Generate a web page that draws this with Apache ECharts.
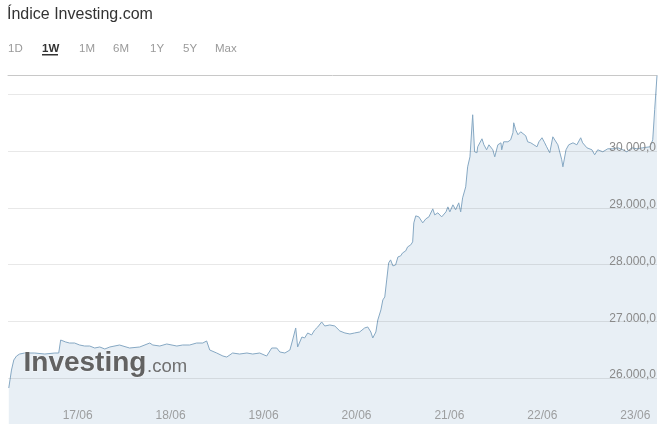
<!DOCTYPE html>
<html>
<head>
<meta charset="utf-8">
<script src="https://cdn.jsdelivr.net/npm/echarts@6/dist/echarts.min.js"></script>
<style>
  html, body { margin: 0; padding: 0; background: #fff; }
  #chart { width: 670px; height: 435px; }
</style>
</head>
<body>
<div id="chart"></div>
<script>
// Hours relative to 17/06 00:00
var hours = [
  -17.8,-17.1,-16.5,-15.8,-15.0,-13.7,-11.1,-8.5,-5.9,-4.9,
  -4.4,-3.9,-3.1,-2.1,-0.8,0.5,1.8,3.1,4.4,5.7,
  7.0,8.3,10.8,13.4,16.0,18.6,19.4,21.2,23.0,25.6,
  27.1,28.9,30.7,32.3,33.3,34.1,35.9,37.5,38.5,40.0,
  41.8,43.7,45.2,47.0,48.8,50.1,51.4,52.2,53.5,54.8,
  55.5,56.3,56.8,57.9,58.6,59.4,60.4,61.2,62.0,63.0,
  63.8,65.1,66.4,67.7,69.0,70.3,71.5,72.8,74.1,74.9,
  75.7,76.2,77.0,77.5,78.3,78.8,79.3,79.8,80.3,80.8,
  81.4,82.1,82.7,83.4,83.9,84.7,85.2,86.0,86.5,86.8,
  87.3,88.1,89.1,89.9,90.7,91.7,92.2,93.0,94.0,95.1,
  95.6,96.1,96.9,97.6,98.4,98.9,99.4,100.2,100.7,101.3,
  101.8,102.0,102.5,103.1,103.3,104.4,104.9,105.6,106.2,107.2,
  107.7,108.5,109.3,109.5,110.0,111.1,111.8,112.4,112.6,113.1,
  113.7,114.4,114.9,115.7,116.2,117.0,117.8,118.6,119.1,119.9,
  120.6,121.1,121.9,122.7,124.0,125.0,125.3,126.1,126.8,127.9,
  128.9,129.9,130.4,131.5,132.8,133.5,134.3,135.6,136.9,138.2,
  139.5,140.8,141.8,143.1,144.4,145.9,147.8,148.5,149.0,149.6
];
var values = [
  25824,26141,26318,26388,26423,26441,26441,26423,26441,26441,
  26670,26688,26635,26617,26617,26582,26564,26564,26529,26547,
  26512,26547,26582,26529,26547,26617,26582,26564,26600,26564,
  26582,26582,26617,26617,26653,26494,26441,26388,26370,26441,
  26423,26441,26423,26441,26388,26529,26529,26459,26441,26494,
  26670,26882,26547,26723,26706,26794,26759,26847,26900,26988,
  26917,26935,26917,26829,26794,26776,26794,26811,26882,26900,
  26811,26706,26811,27023,27200,27376,27429,27729,28029,28082,
  27976,27993,28134,28152,28205,28240,28311,28346,28399,28734,
  28858,28840,28734,28805,28840,28981,28875,28911,28840,28928,
  29016,28928,29052,28964,29087,28928,29175,29369,29722,29898,
  29881,30639,29987,29969,30075,30216,30110,30022,30110,30022,
  29898,30110,30145,30022,30163,30163,30198,30322,30498,30375,
  30287,30339,30322,30269,30163,30145,30110,30075,30163,30234,
  30145,30075,29969,30251,30110,29846,29722,30022,30110,30145,
  30110,30234,30145,30057,30022,29934,30022,29987,30040,30040,
  30057,30022,29987,30057,30040,30057,30075,30198,30728,31330
];
var dayTicks = [0, 24, 48, 72, 96, 120, 144];
var dayLabels = ['17/06', '18/06', '19/06', '20/06', '21/06', '22/06', '23/06'];
var yTicks = [26000, 27000, 28000, 29000, 30000, 31000];
var yLabelled = [26000, 27000, 28000, 29000, 30000];
var tabs = ['1D', '1W', '1M', '6M', '1Y', '5Y', 'Max'];
var activeTab = '1W';
var titleText = 'Índice Investing.com';

var FONT = '"Liberation Sans", Arial, sans-serif';
var tabX = [8, 42, 79, 113, 150, 183, 215];
var X_MIN = -18, X_MAX = 149.6, Y_MIN = 25190, Y_MAX = 31340;

function fmtBR(v) {
  var s = String(Math.round(v));
  s = s.replace(/\B(?=(\d{3})+(?!\d))/g, '.');
  return s + ',0';
}

var data = hours.map(function (h, i) { return [h, values[i]]; });
var dayLabelData = dayTicks.map(function (h, i) { return { value: [h, Y_MIN], name: dayLabels[i] }; });

var graphics = [];
tabs.forEach(function (t, i) {
  var active = t === activeTab;
  graphics.push({
    type: 'text', left: tabX[i], top: 43, z: 10,
    style: { text: t, font: (active ? 'bold ' : '') + '11.5px ' + FONT, fill: active ? '#333' : '#9a9a9a' }
  });
});
graphics.push({ type: 'rect', left: 42, top: 54, z: 10, shape: { width: 16, height: 1.5 }, style: { fill: '#333' } });
graphics.push({
  type: 'text', left: 23, top: 349, z: 20,
  style: { text: 'Investing', font: 'bold 28px ' + FONT, fill: '#626262', stroke: 'rgba(255,255,255,0.6)', lineWidth: 1 }
});
graphics.push({
  type: 'text', left: 147, top: 357, z: 20,
  style: { text: '.com', font: '18.5px ' + FONT, fill: '#707070' }
});

var chart = echarts.init(document.getElementById('chart'), null, { renderer: 'canvas' });
chart.setOption({
  animation: false,
  backgroundColor: '#fff',
  title: {
    text: titleText, left: 7, top: 7, padding: 0,
    textStyle: { fontFamily: FONT, fontSize: 16, fontWeight: 'normal', color: '#333' }
  },
  grid: { left: 8, right: 13, top: 75, bottom: 11 },
  xAxis: [{
    type: 'value', min: X_MIN, max: X_MAX,
    axisLine: { show: false }, axisTick: { show: false }, splitLine: { show: false },
    axisLabel: { show: false }
  }, {
    type: 'value', min: X_MIN, max: X_MAX, position: 'top',
    axisLine: { show: true, lineStyle: { color: '#c8c8c8', width: 1 } },
    axisTick: { show: false }, axisLabel: { show: false }, splitLine: { show: false }
  }],
  yAxis: {
    type: 'value', min: Y_MIN, max: Y_MAX,
    axisLine: { show: false }, axisTick: { show: false }, axisLabel: { show: false }, splitLine: { show: false }
  },
  graphic: graphics,
  series: [{
    type: 'line',
    data: data,
    showSymbol: false,
    lineStyle: { color: '#86a8c3', width: 1 },
    areaStyle: { color: '#e8eff5', origin: 'start', opacity: 1 },
    markLine: {
      silent: true, symbol: 'none', animation: false,
      lineStyle: { color: 'rgba(0,0,0,0.09)', width: 1, type: 'solid' },
      label: {
        position: 'insideEndTop', distance: [1, -3],
        color: '#8a8a8a', fontSize: 12, fontFamily: FONT,
        formatter: function (p) { return fmtBR(p.value); }
      },
      data: yTicks.map(function (v) {
        return { yAxis: v, label: { show: yLabelled.indexOf(v) >= 0 } };
      })
    }
  }, {
    type: 'scatter',
    data: dayLabelData,
    symbolSize: 0,
    silent: true,
    z: 5,
    label: {
      show: true, position: 'top', distance: 2,
      color: '#8a8a8a', fontSize: 12, fontFamily: FONT,
      formatter: function (p) { return p.name; }
    }
  }]
});
</script>
</body>
</html>
